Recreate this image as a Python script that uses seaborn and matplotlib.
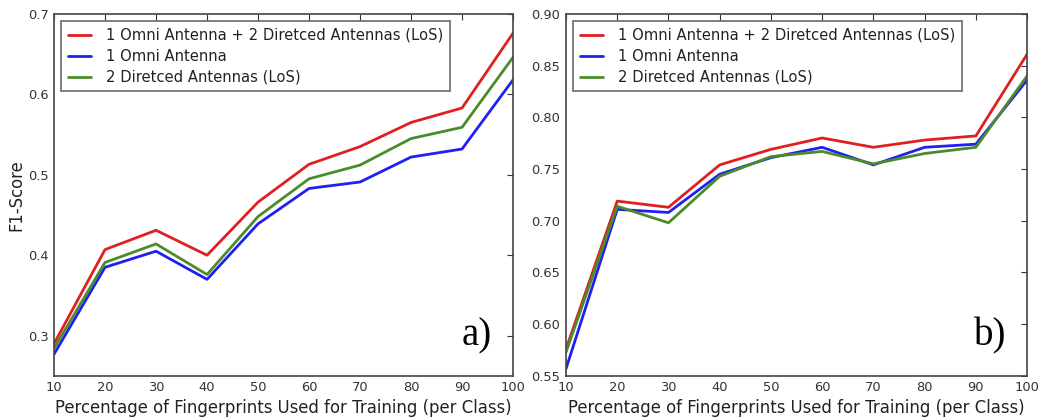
import numpy as np
import pandas as pd
import matplotlib
matplotlib.use("Agg")
import matplotlib.pyplot as plt
import seaborn as sns

x_pct = [10, 20, 30, 40, 50, 60, 70, 80, 90, 100]
series_names = ["1 Omni Antenna + 2 Diretced Antennas (LoS)", "1 Omni Antenna", "2 Diretced Antennas (LoS)"]

a_combined = [0.290, 0.407, 0.431, 0.400, 0.466, 0.513, 0.535, 0.565, 0.583, 0.676]
a_omni     = [0.277, 0.385, 0.405, 0.370, 0.439, 0.483, 0.491, 0.522, 0.532, 0.618]
a_directed = [0.284, 0.391, 0.414, 0.376, 0.448, 0.495, 0.512, 0.545, 0.559, 0.646]

b_combined = [0.576, 0.719, 0.713, 0.754, 0.769, 0.780, 0.771, 0.778, 0.782, 0.861]
b_omni     = [0.557, 0.711, 0.708, 0.745, 0.761, 0.771, 0.754, 0.771, 0.774, 0.836]
b_directed = [0.573, 0.714, 0.698, 0.743, 0.762, 0.767, 0.755, 0.765, 0.771, 0.840]

panel_labels = ["a)", "b)"]
yticks_a = [0.3, 0.4, 0.5, 0.6, 0.7]
yticks_b = [0.55, 0.60, 0.65, 0.70, 0.75, 0.80, 0.85, 0.90]

sns.set_style("white")
plt.rcParams['font.family'] = ['DejaVu Sans']

colors = ["#e02020", "#2020f5", "#4a8c2a"]

def make_df(c, o, d):
    rows = []
    for name, vals in zip(series_names, [c, o, d]):
        for xv, yv in zip(x_pct, vals):
            rows.append({"x": xv, "y": yv, "series": name})
    return pd.DataFrame(rows)

fig = plt.figure(figsize=(10.47, 4.2), dpi=100)
ax1 = fig.add_axes([0.0516, 0.105, 0.4384, 0.862])
ax2 = fig.add_axes([0.5406, 0.105, 0.4404, 0.862])

datasets = [(a_combined, a_omni, a_directed), (b_combined, b_omni, b_directed)]
for i, (ax, ds) in enumerate(zip([ax1, ax2], datasets)):
    df = make_df(*ds)
    sns.lineplot(data=df, x="x", y="y", hue="series", hue_order=series_names,
                 palette=colors, linewidth=2, ax=ax)
    ax.set_xlim(10, 100)
    ax.set_xticks(x_pct)
    ax.set_xlabel("Percentage of Fingerprints Used for Training (per Class)", fontsize=11.9,
                  color="#222222", labelpad=3)
    ax.set_ylabel("")
    ax.tick_params(direction="in", top=True, right=True, length=4, width=0.8,
                   labelsize=9.4, colors="#333333", pad=4)
    for s in ax.spines.values():
        s.set_color("#444444")
        s.set_linewidth(1.2)
    leg = ax.legend(loc="upper left", fontsize=10.65, frameon=True, fancybox=False,
                    borderaxespad=0.5, handlelength=1.55, handletextpad=1.0,
                    labelspacing=0.4, borderpad=0.45)
    leg.get_frame().set_edgecolor("#444444")
    leg.get_frame().set_linewidth(1.2)
    for t in leg.get_texts():
        t.set_color("#222222")
    ax.text(0.955, 0.06, panel_labels[i], transform=ax.transAxes, ha="right", va="bottom",
            fontsize=28, family="Liberation Serif", color="black")

ax1.set_ylim(0.25, 0.7)
ax1.set_yticks(yticks_a)
ax1.set_yticklabels([f"{v:.1f}" for v in yticks_a])
ax1.set_ylabel("F1-Score", fontsize=11.9, color="#222222", labelpad=1.5)
ax2.set_ylim(0.55, 0.90)
ax2.set_yticks(yticks_b)
ax2.set_yticklabels([f"{v:.2f}" for v in yticks_b])

fig.savefig("out.png", dpi=100)
